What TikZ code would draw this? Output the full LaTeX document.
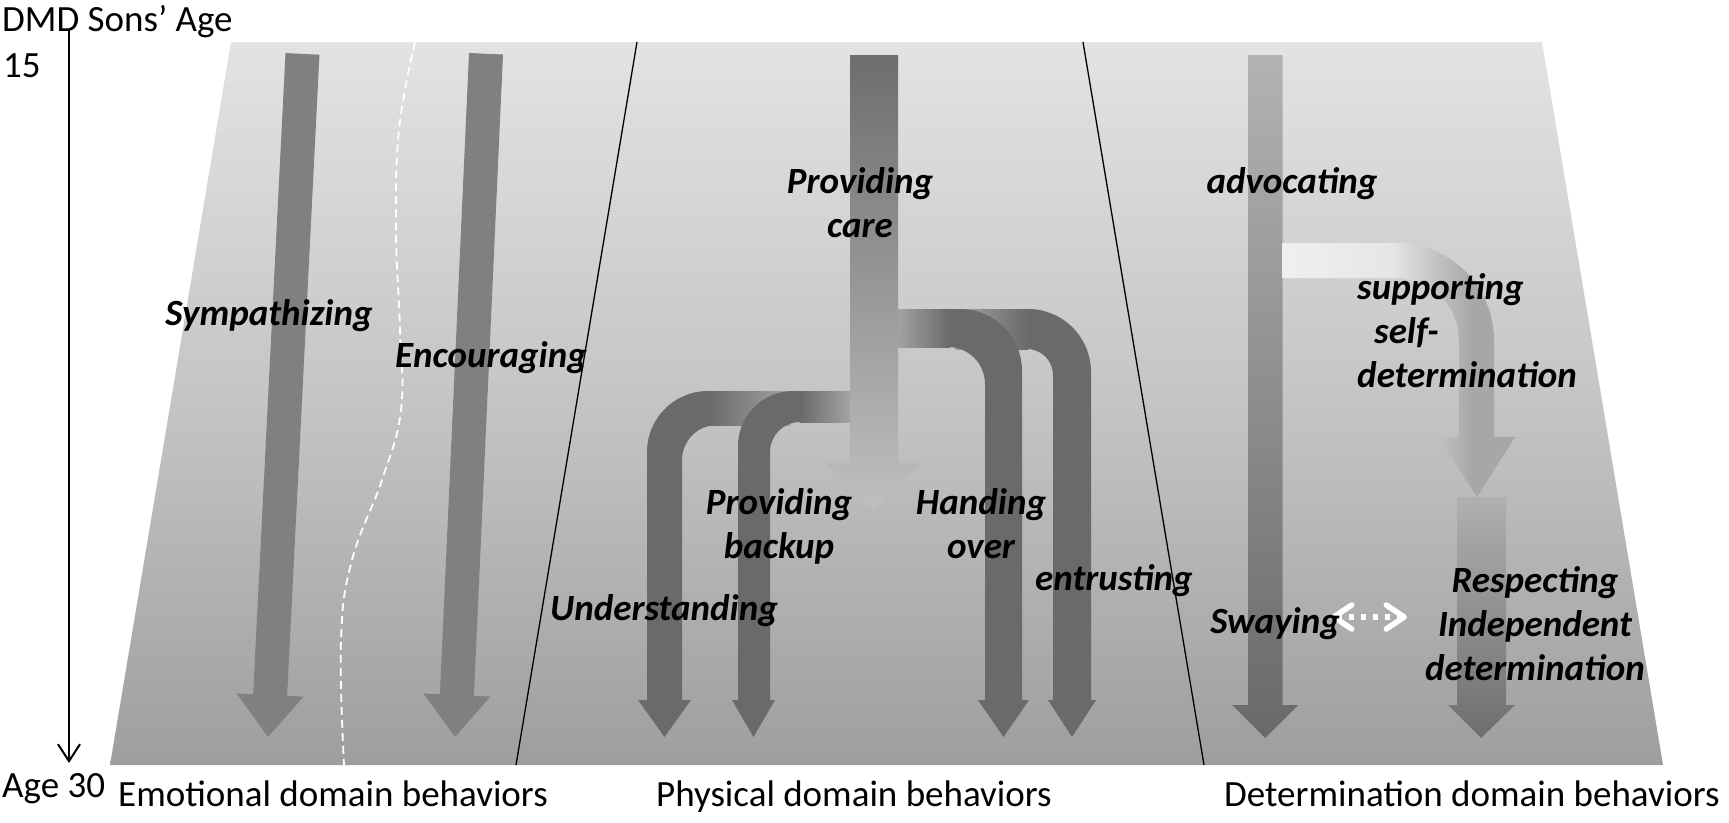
\documentclass[tikz,border=0pt]{standalone}
\usepackage{fontspec}
\setmainfont{Carlito}
\usetikzlibrary{arrows.meta}
\definecolor{bgtop}{gray}{0.89}
\definecolor{bgmid}{gray}{0.77}
\definecolor{bgbot}{gray}{0.62}
\definecolor{emo}{gray}{0.5}
\definecolor{phys}{gray}{0.415}
\definecolor{physlight}{gray}{0.64}
\definecolor{caretop}{gray}{0.43}
\definecolor{carebot}{gray}{0.75}
\definecolor{advtop}{gray}{0.70}
\definecolor{advbot}{gray}{0.41}
\definecolor{supone}{gray}{0.94}
\definecolor{suptwo}{gray}{0.90}
\definecolor{supthree}{gray}{0.655}
\definecolor{resptop}{gray}{0.69}
\definecolor{respbot}{gray}{0.43}
\tikzset{
    lab/.style={font=\fontsize{37}{44}\selectfont\bfseries\itshape, align=center, anchor=base},
    axlab/.style={font=\fontsize{37}{44}\selectfont, anchor=base west}
}
\begin{document}
\begin{tikzpicture}[x=1pt,y=1pt]
    \tikzstyle{every node}+=[inner sep=0pt]
    \useasboundingbox (0,0) rectangle (1729,-822);
    \shade [top color=bgtop, bottom color=bgbot, middle color=bgmid] (231,-42) -- (1542,-42) -- (1663,-765) -- (110,-765) -- cycle;
    \draw [black, line width=1.3] (637,-42) -- (516,-765);
    \draw [black, line width=1.3] (1083,-42) -- (1204,-765);
    \draw [white, line width=1.8, dash pattern=on 8pt off 5pt] plot [smooth, tension=0.7] coordinates {(415,-42) (399,-130) (396,-230) (400,-330) (401,-410) (382,-480) (352,-560) (341,-640) (344,-765)};
    \coordinate (axtop) at (69,-30);
    \coordinate (axbot) at (69,-763);
    \draw [black, line width=2, -{Straight Barb[length=17pt,width=22pt]}] (axtop) -- (axbot);
    \begin{scope}[shift={(268,-737)}, rotate=-2.89]
        \fill [emo] (-17,684) -- (17,684) -- (17,42) -- (33.5,42) -- (0,0) -- (-33.5,42) -- (-17,42) -- cycle;
    \end{scope}
    \begin{scope}[shift={(455,-737)}, rotate=-2.60]
        \fill [emo] (-17,684) -- (17,684) -- (17,42) -- (33.5,42) -- (0,0) -- (-33.5,42) -- (-17,42) -- cycle;
    \end{scope}
    \fill [phys] (955,-309) -- (1028,-309) arc [start angle=90, end angle=0, radius=63] -- (1091,-700) -- (1096,-700) -- (1072,-737) -- (1048,-700) -- (1053,-700) -- (1053,-375) arc [start angle=0, end angle=90, radius=26] -- (955,-349) -- cycle;
    \shade [left color=physlight, right color=phys] (955,-309) rectangle (1028,-349);
    \fill [phys] (897,-309) -- (960,-309) arc [start angle=90, end angle=0, radius=62] -- (1022,-700) -- (1029,-700) -- (1003.5,-737) -- (978,-700) -- (985,-700) -- (985,-384) arc [start angle=0, end angle=90, radius=37] -- (897,-347) -- cycle;
    \shade [left color=physlight, right color=phys] (897,-309) rectangle (950,-347);
    \fill [phys] (790,-391) -- (708,-391) arc [start angle=90, end angle=180, radius=61] -- (647,-700) -- (638,-700) -- (664.5,-737) -- (691,-700) -- (682,-700) -- (682,-460) arc [start angle=180, end angle=90, radius=35] -- (790,-425) -- cycle;
    \shade [left color=phys, right color=physlight] (708,-391) rectangle (790,-425);
    \fill [phys] (850,-391) -- (793,-391) arc [start angle=90, end angle=180, radius=55] -- (738,-700) -- (732,-700) -- (753.5,-737) -- (775,-700) -- (770,-700) -- (770,-452) arc [start angle=180, end angle=90, radius=30] -- (850,-422) -- cycle;
    \shade [left color=phys, right color=physlight] (800,-391) rectangle (850,-422);
    \shade [top color=caretop, bottom color=carebot] (850,-55) -- (898,-55) -- (898,-463) -- (922,-463) -- (874,-510) -- (826,-463) -- (850,-463) -- cycle;
    \shade [top color=advtop, bottom color=advbot] (1248,-55) -- (1282.5,-55) -- (1282.5,-705) -- (1298.5,-705) -- (1265,-738) -- (1232,-705) -- (1248,-705) -- cycle;
    \begin{scope}
        \clip (1282,-243) -- (1396.5,-243) arc [start angle=90, end angle=0, radius=97.5] -- (1494,-437) -- (1515,-437) -- (1477,-497) -- (1438,-437) -- (1459,-437) -- (1459,-340.5) arc [start angle=0, end angle=90, radius=62.5] -- (1282,-278) -- cycle;
        \shade [left color=supone, right color=suptwo] (1280,-240) rectangle (1392,-500);
        \shade [left color=suptwo, right color=supthree] (1392,-240) rectangle (1472,-500);
        \fill [supthree] (1472,-240) rectangle (1520,-500);
    \end{scope}
    \shade [top color=resptop, bottom color=respbot] (1457,-497) -- (1506,-497) -- (1506,-705) -- (1515,-705) -- (1481,-738) -- (1448,-705) -- (1457,-705) -- cycle;
    \coordinate (swayl) at (1331,-617);
    \coordinate (swayr) at (1407,-617);
    \draw [white, line width=5.5, dash pattern=on 5pt off 7pt, {Straight Barb[round,length=18pt,width=24pt]}-{Straight Barb[round,length=18pt,width=24pt]}] (swayl) -- (swayr);
    \node [axlab] (agetitle) at (2,-31) {DMD Sons’ Age};
    \node [axlab] (agestart) at (3,-77) {15};
    \node [axlab] (ageend) at (2,-797) {Age 30};
    \node [axlab] (emotional) at (118,-806) {Emotional domain behaviors};
    \node [axlab] (physical) at (656,-806) {Physical domain behaviors};
    \node [axlab] (determination) at (1224,-806) {Determination domain behaviors};
    \node [lab] (sympathizing) at (269,-325) {Sympathizing};
    \node [lab] (encouraging) at (491,-367) {Encouraging};
    \node [lab] (care) at (860,-237) {Providing\\care};
    \node [lab] (backup) at (779,-558) {Providing\\backup};
    \node [lab] (handing) at (981,-558) {Handing\\over};
    \node [lab] (entrusting) at (1114,-590) {entrusting};
    \node [lab] (understanding) at (664,-620) {Understanding};
    \node [lab] (advocating) at (1292,-193) {advocating};
    \node [lab, align=left, anchor=base west] (supporting) at (1357,-387) {supporting\\\hspace{17pt}self-\\determination};
    \node [lab] (swaying) at (1275,-633) {Swaying};
    \node [lab] (respecting) at (1535,-680) {Respecting\\Independent\\determination};
\end{tikzpicture}
\end{document}
